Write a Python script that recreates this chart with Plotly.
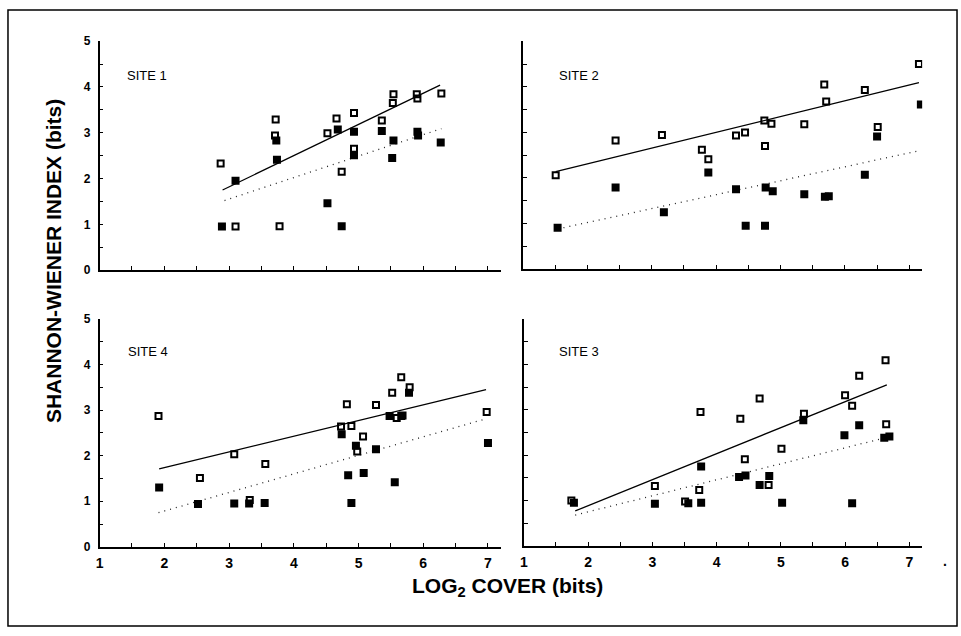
import plotly.graph_objects as go

W, H = 961, 636

# ---------------- data ----------------
site_names = ["SITE 1", "SITE 2", "SITE 4", "SITE 3"]

site1_open_x = [2.87, 3.10, 3.78, 3.72, 3.71, 4.52, 4.66, 4.74, 4.93, 4.93, 5.36, 5.54, 5.53, 5.90, 5.91, 6.28]
site1_open_y = [2.33, 0.95, 0.96, 3.29, 2.94, 2.99, 3.31, 2.15, 3.43, 2.65, 3.27, 3.84, 3.65, 3.84, 3.75, 3.86]
site1_filled_x = [2.89, 3.10, 3.73, 3.74, 4.52, 4.68, 4.74, 4.93, 4.93, 5.36, 5.54, 5.52, 5.91, 5.92, 6.27]
site1_filled_y = [0.95, 1.95, 2.83, 2.41, 1.46, 3.07, 0.96, 3.02, 2.51, 3.04, 2.83, 2.45, 3.02, 2.94, 2.79]
site1_fit_open_x = [2.90, 6.26]
site1_fit_open_y = [1.75, 4.04]
site1_fit_filled_x = [2.93, 6.28]
site1_fit_filled_y = [1.52, 3.09]

site2_open_x = [1.51, 2.44, 3.16, 3.78, 3.88, 4.31, 4.45, 4.75, 4.76, 4.86, 5.37, 5.68, 5.71, 6.31, 6.51, 7.15]
site2_open_y = [2.06, 2.82, 2.94, 2.62, 2.41, 2.93, 3.00, 3.26, 2.70, 3.19, 3.18, 4.05, 3.68, 3.93, 3.12, 4.50]
site2_filled_x = [1.54, 2.44, 3.19, 3.88, 4.31, 4.46, 4.76, 4.77, 4.88, 5.37, 5.69, 5.75, 6.31, 6.50, 7.18]
site2_filled_y = [0.91, 1.79, 1.25, 2.12, 1.75, 0.95, 0.95, 1.79, 1.71, 1.64, 1.59, 1.60, 2.07, 2.91, 3.61]
site2_fit_open_x = [1.51, 7.15]
site2_fit_open_y = [2.14, 4.09]
site2_fit_filled_x = [1.54, 7.13]
site2_fit_filled_y = [0.88, 2.59]

site4_open_x = [1.91, 2.55, 3.08, 3.56, 3.32, 4.73, 4.82, 4.89, 5.07, 4.98, 5.27, 5.52, 5.66, 5.79, 5.59, 5.68, 6.98]
site4_open_y = [2.87, 1.51, 2.03, 1.82, 1.03, 2.64, 3.13, 2.65, 2.42, 2.09, 3.11, 3.38, 3.72, 3.50, 2.83, 2.88, 2.96]
site4_filled_x = [1.92, 2.52, 3.08, 3.31, 3.55, 4.74, 4.84, 4.89, 4.96, 5.08, 5.27, 5.48, 5.56, 5.66, 5.78, 7.00]
site4_filled_y = [1.30, 0.94, 0.95, 0.95, 0.96, 2.47, 1.57, 0.96, 2.22, 1.62, 2.14, 2.87, 1.42, 2.87, 3.38, 2.28]
site4_fit_open_x = [1.92, 6.97]
site4_fit_open_y = [1.71, 3.45]
site4_fit_filled_x = [1.91, 6.97]
site4_fit_filled_y = [0.75, 2.81]

site3_open_x = [1.74, 3.04, 3.51, 3.73, 3.75, 4.37, 4.44, 4.67, 4.81, 5.01, 5.36, 6.00, 6.11, 6.22, 6.63, 6.64]
site3_open_y = [1.00, 1.32, 0.98, 1.23, 2.95, 2.80, 1.91, 3.25, 1.34, 2.14, 2.91, 3.32, 3.09, 3.75, 4.09, 2.68]
site3_filled_x = [1.78, 3.04, 3.56, 3.76, 3.76, 4.35, 4.45, 4.67, 4.82, 5.02, 5.35, 5.99, 6.11, 6.22, 6.61, 6.69]
site3_filled_y = [0.95, 0.93, 0.94, 0.95, 1.75, 1.52, 1.55, 1.34, 1.54, 0.95, 2.77, 2.44, 0.94, 2.66, 2.38, 2.41]
site3_fit_open_x = [1.80, 6.65]
site3_fit_open_y = [0.77, 3.55]
site3_fit_filled_x = [1.80, 6.65]
site3_fit_filled_y = [0.68, 2.39]

x_ticks = [1, 2, 3, 4, 5, 6, 7]
y_ticks = [0, 1, 2, 3, 4, 5]
x_title = "LOG<sub>2</sub> COVER (bits)"
y_title = "SHANNON-WIENER INDEX (bits)"

panels = [
    (site1_open_x, site1_open_y, site1_filled_x, site1_filled_y,
     site1_fit_open_x, site1_fit_open_y, site1_fit_filled_x, site1_fit_filled_y),
    (site2_open_x, site2_open_y, site2_filled_x, site2_filled_y,
     site2_fit_open_x, site2_fit_open_y, site2_fit_filled_x, site2_fit_filled_y),
    (site4_open_x, site4_open_y, site4_filled_x, site4_filled_y,
     site4_fit_open_x, site4_fit_open_y, site4_fit_filled_x, site4_fit_filled_y),
    (site3_open_x, site3_open_y, site3_filled_x, site3_filled_y,
     site3_fit_open_x, site3_fit_open_y, site3_fit_filled_x, site3_fit_filled_y),
]

# ---------------- layout geometry (pixels) ----------------
px_x = [(96, 499), (521, 922), (96, 499), (522, 922)]
px_y = [(35, 269), (35, 268), (319, 552), (319, 551)]
label_pos = [(122, 70), (555, 70), (123, 352), (555, 352)]

sans = "Liberation Sans, Arial, Helvetica, sans-serif"

fig = go.Figure()
layout = dict(
    width=W, height=H,
    margin=dict(l=0, r=0, t=0, b=0),
    paper_bgcolor="white", plot_bgcolor="white",
    showlegend=False,
)

annotations = []
for i, p in enumerate(panels):
    ox, oy, fx, fy, lox, loy, lfx, lfy = p
    n = i + 1
    xa = "x" if n == 1 else f"x{n}"
    ya = "y" if n == 1 else f"y{n}"
    fig.add_trace(go.Scatter(x=lox, y=loy, mode="lines", xaxis=xa, yaxis=ya,
                             line=dict(color="black", width=1.3)))
    fig.add_trace(go.Scatter(x=lfx, y=lfy, mode="lines", xaxis=xa, yaxis=ya,
                             line=dict(color="#222222", width=1.3, dash="1px,5px")))
    fig.add_trace(go.Scatter(x=ox, y=oy, mode="markers", xaxis=xa, yaxis=ya,
                             marker=dict(symbol="square-open", size=6, color="black",
                                         line=dict(width=2, color="black"))))
    fig.add_trace(go.Scatter(x=fx, y=fy, mode="markers", xaxis=xa, yaxis=ya,
                             marker=dict(symbol="square", size=8, color="black",
                                         line=dict(width=0))))
    bottom = n in (3, 4)
    left = n in (1, 3)
    xkey = "xaxis" if n == 1 else f"xaxis{n}"
    ykey = "yaxis" if n == 1 else f"yaxis{n}"
    layout[xkey] = dict(
        domain=[px_x[i][0] / W, px_x[i][1] / W], range=[1, 7.2],
        anchor=ya, showgrid=False, zeroline=False,
        showline=True, linecolor="black", linewidth=1.5,
        tickmode="array", tickvals=x_ticks, ticktext=[str(v) for v in x_ticks],
        ticks="inside", ticklen=4, tickwidth=1, tickcolor="black",
        minor=dict(dtick=0.5, ticks="inside", ticklen=4, tickwidth=1, tickcolor="black"),
        showticklabels=bottom,
        tickfont=dict(family=sans, size=14, color="black", weight="bold"),
        ticklabelstandoff=3,
    )
    layout[ykey] = dict(
        domain=[1 - px_y[i][1] / H, 1 - px_y[i][0] / H], range=[0, 5],
        anchor=xa, showgrid=False, zeroline=False,
        showline=True, linecolor="black", linewidth=1.5,
        tickmode="array", tickvals=y_ticks, ticktext=[str(v) for v in y_ticks],
        ticks="inside", ticklen=4, tickwidth=1, tickcolor="black",
        minor=dict(dtick=0.5, ticks="inside", ticklen=4, tickwidth=1, tickcolor="black"),
        showticklabels=left,
        tickfont=dict(family=sans, size=12, color="black", weight="bold"),
        ticklabelstandoff=5,
    )
    annotations.append(dict(
        text=site_names[i], xref="paper", yref="paper",
        x=label_pos[i][0] / W, y=1 - label_pos[i][1] / H,
        xanchor="left", yanchor="middle", showarrow=False,
        font=dict(family=sans, size=13, color="black"),
    ))

annotations.append(dict(
    text=x_title, xref="paper", yref="paper", x=506 / W, y=1 - 593 / H,
    xanchor="center", yanchor="middle", showarrow=False,
    font=dict(family=sans, size=21, color="black", weight="bold"),
))
annotations.append(dict(
    text=y_title, xref="paper", yref="paper", x=49 / W, y=1 - 260 / H,
    xanchor="center", yanchor="middle", showarrow=False, textangle=-90,
    font=dict(family=sans, size=21, color="black", weight="bold"),
))
annotations.append(dict(
    text=".", xref="paper", yref="paper", x=945 / W, y=1 - 566 / H,
    xanchor="center", yanchor="middle", showarrow=False,
    font=dict(family=sans, size=14, color="black", weight="bold"),
))

layout["annotations"] = annotations
layout["shapes"] = [dict(
    type="rect", xref="paper", yref="paper",
    x0=4 / W, x1=957 / W, y0=1 - 633 / H, y1=1 - 3 / H,
    line=dict(color="black", width=1.5), fillcolor="rgba(0,0,0,0)",
)]

fig.update_layout(**layout)
fig.write_html("out.html")
